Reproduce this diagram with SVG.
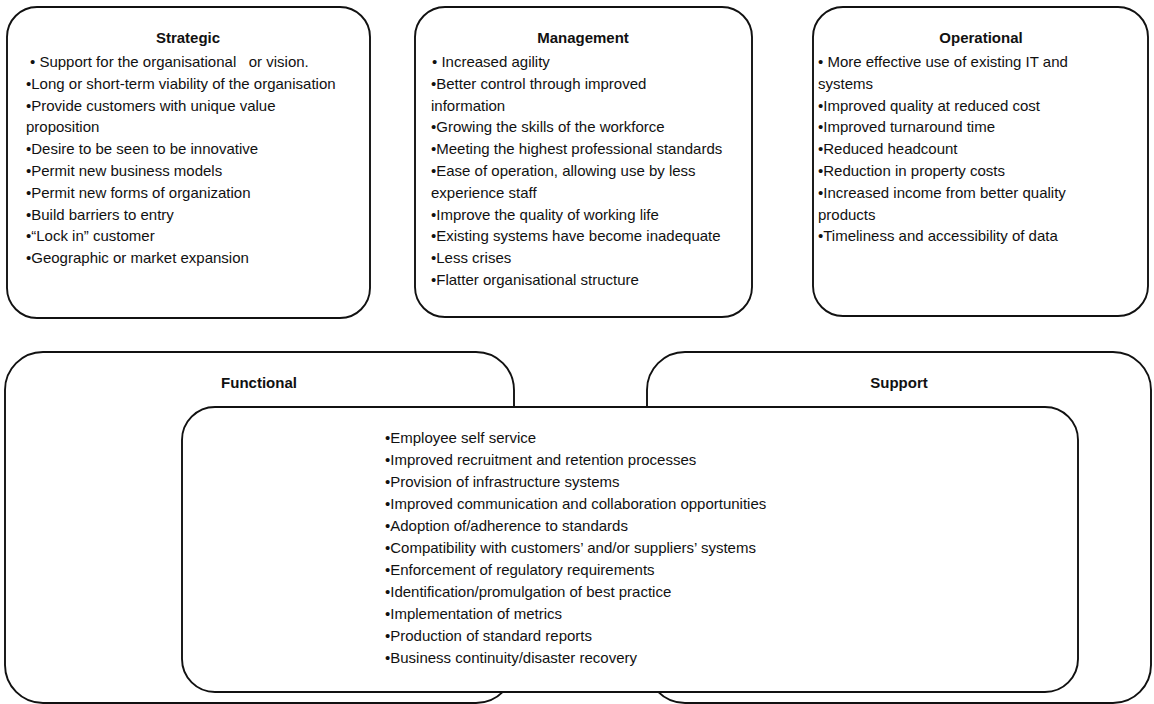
<svg xmlns="http://www.w3.org/2000/svg" width="1154" height="704" viewBox="0 0 1154 704">
  <style>
    .box { fill: #ffffff; stroke: #111111; stroke-width: 1.9; }
    .title { font-family: "Liberation Sans", Arial, sans-serif; font-size: 15px; font-weight: bold; fill: #111111; text-anchor: middle; }
    .body { font-family: "Liberation Sans", Arial, sans-serif; font-size: 15px; fill: #111111; white-space: pre; }
  </style>
  <rect width="1154" height="704" fill="#ffffff"/>

  <!-- Upper row: three benefit categories -->
  <g id="strategic">
    <rect class="box" x="7" y="7" width="363" height="311" rx="30" ry="30"/>
    <text class="title" x="188" y="43">Strategic</text>
    <text class="body">
      <tspan x="30" y="67">• Support for the organisational   or vision.</tspan>
      <tspan x="26" y="88.8">•Long or short-term viability of the organisation</tspan>
      <tspan x="26" y="110.6">•Provide customers with unique value</tspan>
      <tspan x="26" y="132.4">proposition</tspan>
      <tspan x="26" y="154.2">•Desire to be seen to be innovative</tspan>
      <tspan x="26" y="176">•Permit new business models</tspan>
      <tspan x="26" y="197.8">•Permit new forms of organization</tspan>
      <tspan x="26" y="219.6">•Build barriers to entry</tspan>
      <tspan x="26" y="241.4">•“Lock in” customer</tspan>
      <tspan x="26" y="263.2">•Geographic or market expansion</tspan>
    </text>
  </g>

  <g id="management">
    <rect class="box" x="415" y="7" width="337" height="310" rx="30" ry="30"/>
    <text class="title" x="583" y="43">Management</text>
    <text class="body">
      <tspan x="432" y="67">• Increased agility</tspan>
      <tspan x="431" y="88.8">•Better control through improved</tspan>
      <tspan x="431" y="110.6">information</tspan>
      <tspan x="431" y="132.4">•Growing the skills of the workforce</tspan>
      <tspan x="431" y="154.2">•Meeting the highest professional standards</tspan>
      <tspan x="431" y="176">•Ease of operation, allowing use by less</tspan>
      <tspan x="431" y="197.8">experience staff</tspan>
      <tspan x="431" y="219.6">•Improve the quality of working life</tspan>
      <tspan x="431" y="241.4">•Existing systems have become inadequate</tspan>
      <tspan x="431" y="263.2">•Less crises</tspan>
      <tspan x="431" y="285">•Flatter organisational structure</tspan>
    </text>
  </g>

  <g id="operational">
    <rect class="box" x="813" y="7" width="335" height="309" rx="30" ry="30"/>
    <text class="title" x="981" y="43">Operational</text>
    <text class="body">
      <tspan x="818" y="67">• More effective use of existing IT and</tspan>
      <tspan x="818" y="88.8">systems</tspan>
      <tspan x="818" y="110.6">•Improved quality at reduced cost</tspan>
      <tspan x="818" y="132.4">•Improved turnaround time</tspan>
      <tspan x="818" y="154.2">•Reduced headcount</tspan>
      <tspan x="818" y="176">•Reduction in property costs</tspan>
      <tspan x="818" y="197.8">•Increased income from better quality</tspan>
      <tspan x="818" y="219.6">products</tspan>
      <tspan x="818" y="241.4">•Timeliness and accessibility of data</tspan>
    </text>
  </g>

  <!-- Lower row: two overlapping categories sharing one list -->
  <g id="functional">
    <rect class="box" x="5" y="352" width="509" height="351" rx="38" ry="38"/>
    <text class="title" x="259" y="388">Functional</text>
  </g>

  <g id="support">
    <rect class="box" x="647" y="352" width="504" height="351" rx="38" ry="38"/>
    <text class="title" x="899" y="388">Support</text>
  </g>

  <g id="shared-benefits">
    <rect class="box" x="182" y="407" width="896" height="285" rx="33" ry="33"/>
    <text class="body">
      <tspan x="385" y="443">•Employee self service</tspan>
      <tspan x="385" y="465">•Improved recruitment and retention processes</tspan>
      <tspan x="385" y="487">•Provision of infrastructure systems</tspan>
      <tspan x="385" y="509">•Improved communication and collaboration opportunities</tspan>
      <tspan x="385" y="531">•Adoption of/adherence to standards</tspan>
      <tspan x="385" y="553">•Compatibility with customers’ and/or suppliers’ systems</tspan>
      <tspan x="385" y="575">•Enforcement of regulatory requirements</tspan>
      <tspan x="385" y="597">•Identification/promulgation of best practice</tspan>
      <tspan x="385" y="619">•Implementation of metrics</tspan>
      <tspan x="385" y="641">•Production of standard reports</tspan>
      <tspan x="385" y="663">•Business continuity/disaster recovery</tspan>
    </text>
  </g>

  <g id="connectors"></g>
</svg>
